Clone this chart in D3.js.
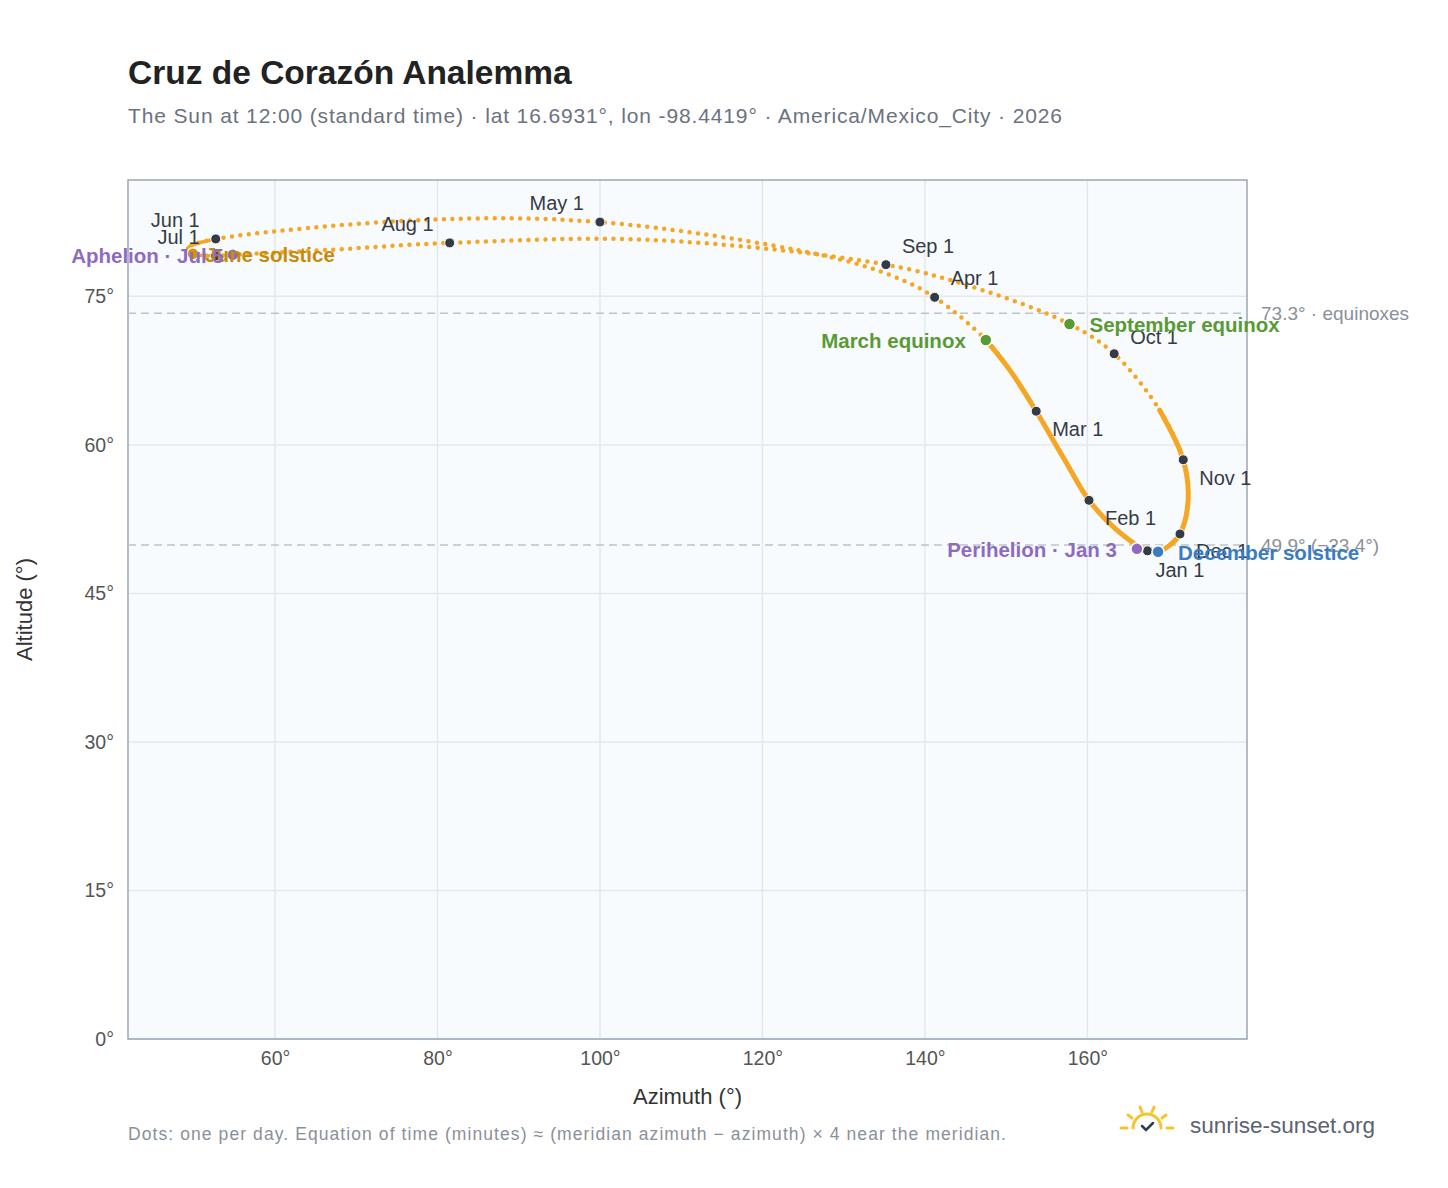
<!DOCTYPE html>
<html><head><meta charset="utf-8">
<script src="https://cdn.jsdelivr.net/npm/d3@7"></script>
<style>body{margin:0;background:#fff;font-family:"Liberation Sans",Arial,sans-serif}</style>
</head><body><svg id="c" width="1448" height="1188"></svg>
<script>
// Path samples (date label, azimuth°, altitude°)
const pathDates = ["Jan 1","Jan 15","Feb 1","Feb 15","Mar 1","Mar 15","Mar 20","Apr 1","Apr 8","Apr 15","May 1","May 15","Jun 1","Jun 10","Jun 15","Jun 21","Jul 1","Jul 5","Jul 15","Aug 1","Aug 15","Sep 1","Sep 15","Sep 22","Oct 1","Oct 15","Nov 1","Nov 15","Dec 1","Dec 10","Dec 21"];
const pathAz = [167.4,163.5,160.2,157.2,153.7,150.5,147.5,141.2,136.2,127.1,100.0,77.8,52.7,49.9,49.2,49.9,52.7,54.8,66.8,81.5,106.2,135.2,146.8,157.8,163.3,168.9,171.8,172.4,171.4,170.2,168.7];
const pathAlt = [49.3,51.5,54.4,58.5,63.4,67.5,70.6,74.9,77.0,79.2,82.5,82.7,80.8,80.2,79.8,79.3,79.1,79.2,79.7,80.4,80.7,78.2,75.7,72.2,69.2,63.5,58.5,54.4,51.0,49.9,49.2];
// Month markers
const months = ["Jan 1","Feb 1","Mar 1","Apr 1","May 1","Jun 1","Jul 1","Aug 1","Sep 1","Oct 1","Nov 1","Dec 1"];
// Special events
const events = ["Perihelion · Jan 3","March equinox","June solstice","Aphelion · Jul 5","September equinox","December solstice"];
const eventAz = [166.1,147.5,49.9,54.8,157.8,168.7];
const eventAlt = [49.5,70.6,79.3,79.2,72.2,49.2];
const refLines = [73.3,49.9];
const refLabels = ["73.3° · equinoxes","49.9° (−23.4°)"];
const xTicks = [60,80,100,120,140,160];
const yTicks = [0,15,30,45,60,75];

const svg = d3.select("#c");
const L=128,R=1247,T=180,B=1039;
const x = d3.scaleLinear().domain([41.9,179.65]).range([L,R]);
const y = d3.scaleLinear().domain([0,86.75]).range([B,T]);
svg.append("rect").attr("x",L).attr("y",T).attr("width",R-L).attr("height",B-T).attr("fill","#f8fbfe");
const g = svg.append("g");
xTicks.forEach(t=>g.append("line").attr("x1",x(t)).attr("x2",x(t)).attr("y1",T).attr("y2",B).attr("stroke","#e3e8ee").attr("stroke-width",1.5));
yTicks.forEach(t=>g.append("line").attr("x1",L).attr("x2",R).attr("y1",y(t)).attr("y2",y(t)).attr("stroke","#e3e8ee").attr("stroke-width",1.5));
svg.append("g").attr("transform",`translate(0,${B})`).call(d3.axisBottom(x).tickValues(xTicks).tickFormat(d=>d+"°").tickSize(0).tickPadding(12))
  .call(a=>{a.select(".domain").remove();a.selectAll("text").attr("font-size",19.5).attr("fill","#555").attr("font-family","Liberation Sans, Arial");});
svg.append("g").attr("transform",`translate(${L},0)`).call(d3.axisLeft(y).tickValues(yTicks).tickFormat(d=>d+"°").tickSize(0).tickPadding(14))
  .call(a=>{a.select(".domain").remove();a.selectAll("text").attr("font-size",19.5).attr("fill","#555").attr("font-family","Liberation Sans, Arial");});
svg.append("rect").attr("x",L).attr("y",T).attr("width",R-L).attr("height",B-T).attr("fill","none").attr("stroke","#9aa6b5").attr("stroke-width",1.5);

refLines.forEach((v,i)=>{
  svg.append("line").attr("x1",L).attr("x2",R).attr("y1",y(v)).attr("y2",y(v)).attr("stroke","#bcc3cd").attr("stroke-width",1.5).attr("stroke-dasharray","8,5");
  svg.append("text").attr("x",R+14).attr("y",y(v)+7).attr("font-size",19).attr("fill","#8a9099").text(refLabels[i]);
});

const pts = pathDates.map((d,i)=>({d,az:pathAz[i],alt:pathAlt[i]}));
const line = d3.line().x(p=>x(p.az)).y(p=>y(p.alt)).curve(d3.curveCatmullRomClosed.alpha(0.5));
svg.append("path").attr("d",line(pts)).attr("fill","none").attr("stroke","#f5a623").attr("stroke-width",4.5).attr("stroke-linecap","round").attr("stroke-dasharray","0 8.5");
// dense stretches (many daily dots overlap): draw as solid
const seg = d3.line().x(p=>x(p.az)).y(p=>y(p.alt)).curve(d3.curveCatmullRom.alpha(0.5));
const idx = d=>pathDates.indexOf(d);
const dense1 = pts.slice(idx("Oct 15")).concat(pts.slice(0,idx("Mar 20")+1));
const dense2 = pts.slice(idx("Jun 1"),idx("Jul 1")+1);
[dense1,dense2].forEach((s,k)=>svg.append("path").attr("d",seg(s)).attr("fill","none").attr("stroke","#f5a623").attr("stroke-width",k?3.5:5).attr("stroke-linecap","round"));

// month markers
const monthOff = {"Jan 1":[8,26,"start"],"Feb 1":[16,25,"start"],"Mar 1":[16,25,"start"],"Apr 1":[16,-12,"start"],"May 1":[-16,-12,"end"],"Jun 1":[-16,-12,"end"],"Jul 1":[-16,-12,"end"],"Aug 1":[-16,-12,"end"],"Sep 1":[16,-12,"start"],"Oct 1":[16,-10,"start"],"Nov 1":[16,25,"start"],"Dec 1":[16,24,"start"]};
months.forEach(m=>{
  const p = pts[idx(m)], o=monthOff[m];
  svg.append("circle").attr("cx",x(p.az)).attr("cy",y(p.alt)).attr("r",5).attr("fill","#353b45").attr("stroke","#fff").attr("stroke-width",1);
  svg.append("text").attr("x",x(p.az)+o[0]).attr("y",y(p.alt)+o[1]).attr("text-anchor",o[2]).attr("font-size",20).attr("fill","#353b45").text(m);
});
const evColor = ["#8e6bbf","#5a9a35","#d4920f","#8e6bbf","#5a9a35","#3a7cc4"];
const evText = ["#8e6bbf","#5a9a35","#c98a0a","#8e6bbf","#5a9a35","#3a7cc4"];
const evOff = [[-20,8,"end"],[-20,8,"end"],[12,8,"start"],[-9,8,"end"],[20,8,"start"],[20,8,"start"]];
events.forEach((e,i)=>{
  svg.append("circle").attr("cx",x(eventAz[i])).attr("cy",y(eventAlt[i])).attr("r",6).attr("fill",evColor[i]).attr("stroke","#fff").attr("stroke-width",1.5);
});
events.forEach((e,i)=>{
  svg.append("text").attr("x",x(eventAz[i])+evOff[i][0]).attr("y",y(eventAlt[i])+evOff[i][1]).attr("text-anchor",evOff[i][2]).attr("font-size",20.5).attr("font-weight","bold").attr("fill",evText[i]).text(e);
});

svg.append("text").attr("x",128).attr("y",84).attr("font-size",33.5).attr("font-weight","bold").attr("fill","#222").text("Cruz de Corazón Analemma");
svg.append("text").attr("x",128).attr("y",123).attr("font-size",21).attr("textLength",934).attr("fill","#6b7280").text("The Sun at 12:00 (standard time) · lat 16.6931°, lon -98.4419° · America/Mexico_City · 2026");
svg.append("text").attr("x",(L+R)/2).attr("y",1104).attr("text-anchor","middle").attr("font-size",22).attr("fill","#333").text("Azimuth (°)");
svg.append("text").attr("transform",`translate(32,${(T+B)/2}) rotate(-90)`).attr("text-anchor","middle").attr("font-size",22).attr("fill","#333").text("Altitude (°)");
svg.append("text").attr("x",128).attr("y",1140).attr("font-size",17.5).attr("textLength",878).attr("fill","#8a9099").text("Dots: one per day. Equation of time (minutes) ≈ (meridian azimuth − azimuth) × 4 near the meridian.");
// logo
const lg = svg.append("g").attr("transform","translate(1147,1128)").attr("stroke","#f5c430").attr("stroke-width",3).attr("stroke-linecap","round").attr("fill","none");
lg.append("path").attr("d","M-14,0 A14,14 0 0 1 14,0");
[[-26,0,-20,0],[20,0,26,0],[-19,-13,-15,-10],[15,-10,19,-13],[-7,-21,-5,-16],[5,-16,7,-21]].forEach(l=>lg.append("line").attr("x1",l[0]).attr("y1",l[1]).attr("x2",l[2]).attr("y2",l[3]));
lg.append("path").attr("d","M-5,-2 L-1,2 L6,-5").attr("stroke","#2d3e50").attr("stroke-width",2.5);
svg.append("text").attr("x",1190).attr("y",1133).attr("font-size",22.5).attr("fill","#5b6270").text("sunrise-sunset.org");
</script></body></html>
